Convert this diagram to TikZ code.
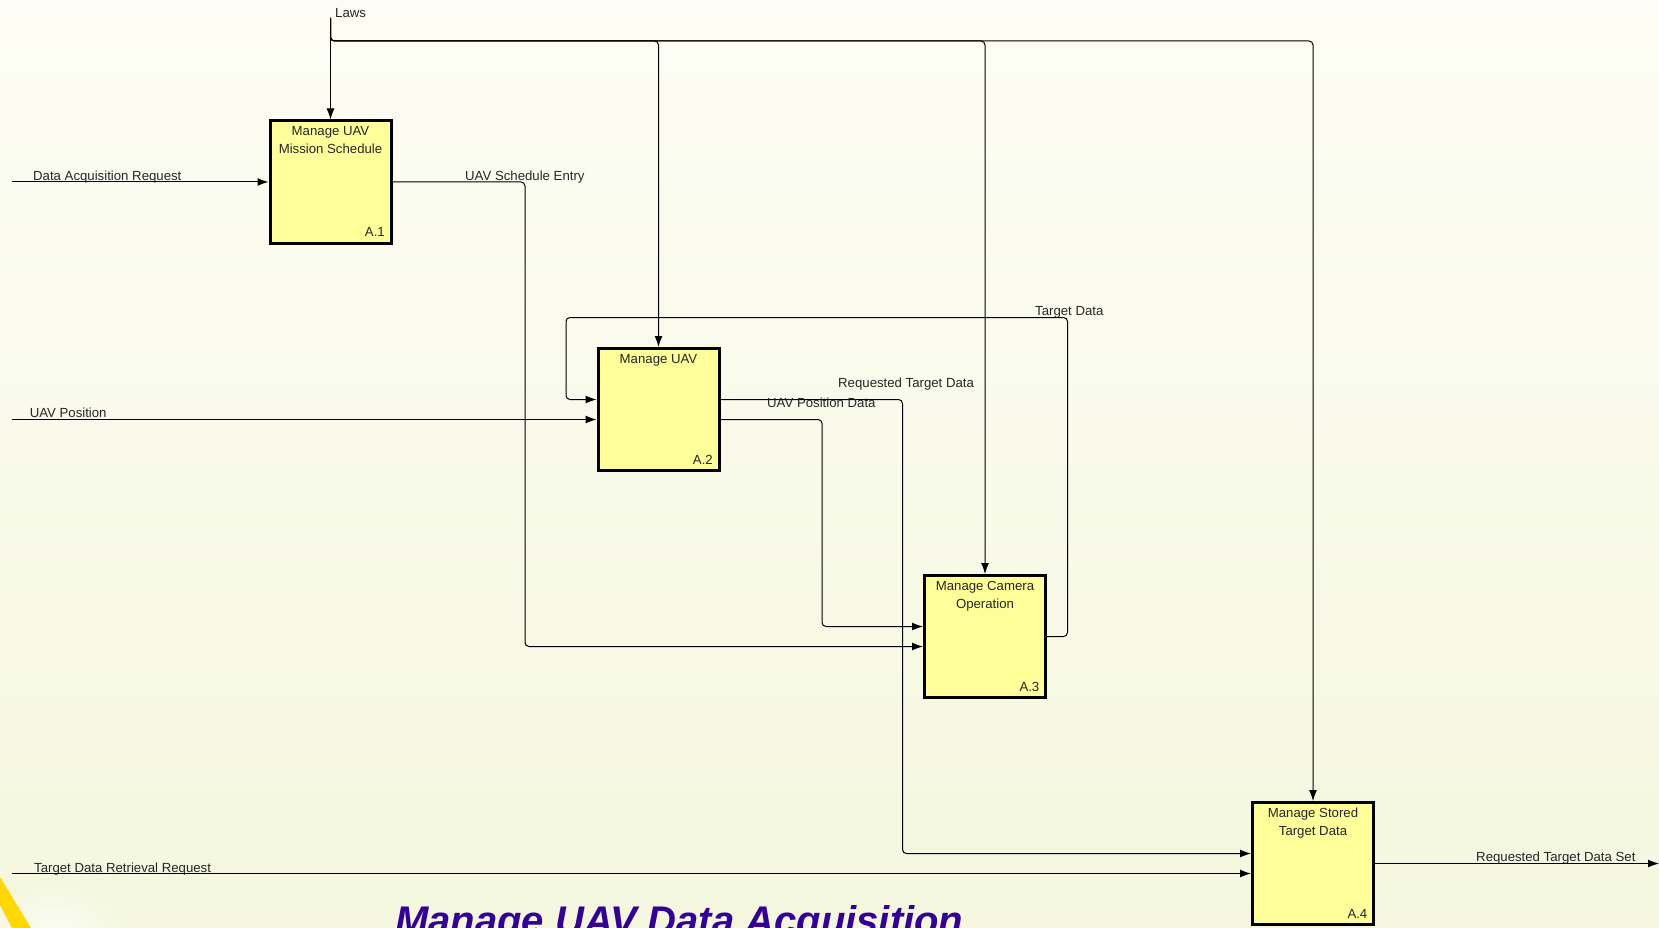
\documentclass[tikz,border=0pt]{standalone}
\usepackage{fontspec}
\setmainfont{Liberation Sans}
\usetikzlibrary{arrows.meta}
\definecolor{boxfill}{RGB}{255,255,153}
\definecolor{bgtop}{RGB}{253,253,245}
\definecolor{bgbot}{RGB}{244,247,222}
\definecolor{titleblue}{RGB}{51,0,153}
\definecolor{stripe}{RGB}{255,216,0}
\begin{document}
\begin{tikzpicture}[x=1pt,y=-1pt,
  fn/.style={draw=black, line width=3pt, fill=boxfill, minimum width=121pt, minimum height=122pt, inner sep=0pt},
  flow/.style={draw=black, line width=1pt, -{Latex[length=11pt,width=8pt]}, rounded corners=4pt},
  lbl/.style={font=\fontsize{13.2}{16}\selectfont, inner sep=0pt, text=black!85},
  ttl/.style={font=\fontsize{13.2}{16}\selectfont, inner sep=0pt, anchor=base, text=black!85},
  num/.style={font=\fontsize{13.2}{16}\selectfont, inner sep=0pt, anchor=base east, text=black!85}]
\useasboundingbox (0,0) rectangle (1659,928);
\shade[top color=bgtop, bottom color=bgbot] (0,0) rectangle (1659,928);
\begin{scope}
\clip (0,860) rectangle (200,928);
\shade[inner color=white!60!bgbot, outer color=bgbot] (55,930) ellipse (75pt and 50pt);
\end{scope}
\fill[stripe] (0,877) -- (31,928) -- (12,928) -- (0,905) -- cycle;

% activity boxes
\node[fn] (A1) at (330.5,182) {};
\node[fn] (A2) at (658.5,409.5) {};
\node[fn] (A3) at (985,636.5) {};
\node[fn] (A4) at (1313,863.5) {};

\path (A1.north) ++(0,16) node[ttl] (A1t1) {Manage UAV} ++(0,18) node[ttl] (A1t2) {Mission Schedule};
\path (A2.north) ++(0,16) node[ttl] (A2t1) {Manage UAV};
\path (A3.north) ++(0,16) node[ttl] (A3t1) {Manage Camera} ++(0,18) node[ttl] (A3t2) {Operation};
\path (A4.north) ++(0,16) node[ttl] (A4t1) {Manage Stored} ++(0,18) node[ttl] (A4t2) {Target Data};
\path (A1.south east) ++(-7.5,-8) node[num] (A1n) {A.1};
\path (A2.south east) ++(-7.5,-8) node[num] (A2n) {A.2};
\path (A3.south east) ++(-7.5,-8) node[num] (A3n) {A.3};
\path (A4.south east) ++(-7.5,-8) node[num] (A4n) {A.4};

% ports
\coordinate (A2i1) at ([yshift=10pt]A2.west);
\coordinate (A2i2) at ([yshift=-10pt]A2.west);
\coordinate (A2o1) at ([yshift=10pt]A2.east);
\coordinate (A2o2) at ([yshift=-10pt]A2.east);
\coordinate (A3i1) at ([yshift=10pt]A3.west);
\coordinate (A3i2) at ([yshift=-10pt]A3.west);
\coordinate (A4i1) at ([yshift=10pt]A4.west);
\coordinate (A4i2) at ([yshift=-10pt]A4.west);

% free ends and bends
\coordinate (lawsTop) at (330.5,18);
\coordinate (lawsBus) at (0,41);
\coordinate (leftEdge) at (12,0);
\coordinate (rightEdge) at (1659,0);
\coordinate (j1) at (525,0);
\coordinate (j2) at (902.5,0);
\coordinate (j3) at (822,0);
\coordinate (j4) at (1067.5,0);
\coordinate (j5) at (566,0);
\coordinate (fb) at (0,317.5);

% controls
\draw[flow] (lawsTop) -- (A1.north);
\draw[flow] (lawsTop) |- (A2.north |- lawsBus) -- (A2.north);
\draw[flow] (lawsTop) |- (A3.north |- lawsBus) -- (A3.north);
\draw[flow] (lawsTop) |- (A4.north |- lawsBus) -- (A4.north);

% inputs
\draw[flow] (leftEdge |- A1.west) -- (A1.west);
\draw[flow] (leftEdge |- A2i2) -- (A2i2);
\draw[flow] (leftEdge |- A4i2) -- (A4i2);

% internal flows
\draw[flow] (A1.east) -| (j1 |- A3i2) -- (A3i2);
\draw[flow] (A2o1) -| (j2 |- A4i1) -- (A4i1);
\draw[flow] (A2o2) -| (j3 |- A3i1) -- (A3i1);
\draw[flow] (A3.east) -| (j4 |- fb) -| (j5 |- A2i1) -- (A2i1);

% output
\draw[flow] (A4.east) -- (rightEdge |- A4.east);

% labels
\node[lbl, anchor=base west] (lLaws) at (335,17.4) {Laws};
\node[lbl, anchor=base west] (lDAR) at (33,180.3) {Data Acquisition Request};
\node[lbl, anchor=base west] (lUSE) at (465,180.7) {UAV Schedule Entry};
\node[lbl, anchor=base west] (lUP) at (29.6,417.3) {UAV Position};
\node[lbl, anchor=base west] (lTD) at (1035,315.7) {Target Data};
\node[lbl, anchor=base west] (lRTD) at (838,387.7) {Requested Target Data};
\node[lbl, anchor=base west] (lUPD) at (767,407.7) {UAV Position Data};
\node[lbl, anchor=base west] (lTDRR) at (34,872.3) {Target Data Retrieval Request};
\node[lbl, anchor=base west] (lRTDS) at (1476,861.7) {Requested Target Data Set};

% title
\node[anchor=base west, inner sep=0pt, text=titleblue, font=\fontsize{40}{44}\selectfont\bfseries\itshape] (title) at (395,934) {Manage UAV Data Acquisition};
\end{tikzpicture}
\end{document}
